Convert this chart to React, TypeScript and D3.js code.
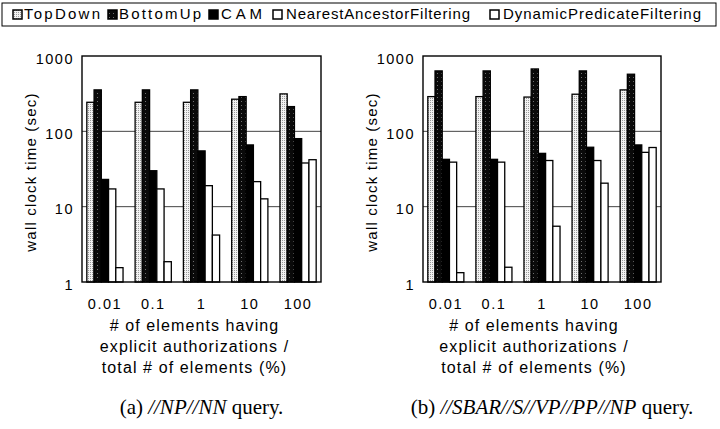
import * as d3 from "d3";

const groups = ["0.01", "0.1", "1", "10", "100"];
const series = [
  "TopDown",
  "BottomUp",
  "CAM",
  "NearestAncestorFiltering",
  "DynamicPredicateFiltering",
];

// wall clock time (sec), one array per series, indexed by group
const npTopDown = [243, 243, 243, 267, 314];
const npBottomUp = [355, 355, 355, 289, 213];
const npCAM = [23, 30, 55, 66, 80];
const npNAF = [17.2, 17.2, 19, 21.5, 38];
const npDPF = [1.55, 1.86, 4.2, 12.7, 42];

const sbTopDown = [289, 289, 285, 311, 355];
const sbBottomUp = [634, 634, 673, 634, 573];
const sbCAM = [42.5, 42.5, 51, 61.5, 66];
const sbNAF = [39, 39, 41, 41, 52.6];
const sbDPF = [1.33, 1.57, 5.5, 20.5, 61];

const yTicks = [1, 10, 100, 1000];
const gridValues = [10, 100];
const xTitle = ["# of elements having", "explicit authorizations /", "total # of elements (%)"];

const FILLS = ["url(#td)", "url(#bu)", "#000", "#fff", "#fff"];
const SANS = "'Liberation Sans', Arial, sans-serif";
const SERIF = "'Liberation Serif', 'Times New Roman', serif";

// legend layout: icon x, text x, text length
const legendLayout = [
  { ix: 13, tx: 24, w: 76 },
  { ix: 108, tx: 119, w: 82 },
  { ix: 209, tx: 221, w: 41 },
  { ix: 273, tx: 286, w: 184 },
  { ix: 490, tx: 503, w: 198 },
];

type PanelProps = {
  left: number;
  right: number;
  values: number[][];
  caption: [string, string, string];
  titleShift: number;
  captionShift: number;
};

function Panel({ left, right, values, caption, titleShift, captionShift }: PanelProps) {
  const top = 56;
  const bottom = 282;
  const y = d3.scaleLog().domain([1, 1000]).range([bottom, top]);
  const x = d3
    .scaleBand<string>()
    .domain(groups)
    .range([left, right])
    .paddingInner(0.25)
    .paddingOuter(0.1);
  const xs = d3
    .scaleBand<string>()
    .domain(series)
    .range([0, x.bandwidth()]);
  const cx = (left + right) / 2;

  return (
    <g>
      {gridValues.map((g) => (
        <line
          key={g}
          x1={left}
          x2={right}
          y1={y(g)}
          y2={y(g)}
          stroke="#444"
          strokeWidth={1}
        />
      ))}
      {groups.map((grp, gi) =>
        series.map((s, si) => {
          const v = values[si][gi];
          return (
            <rect
              key={grp + s}
              x={(x(grp) ?? 0) + (xs(s) ?? 0)}
              y={y(v)}
              width={xs.bandwidth()}
              height={bottom - y(v)}
              fill={FILLS[si]}
              stroke="#000"
              strokeWidth={1.3}
            />
          );
        })
      )}
      <rect
        x={left}
        y={top}
        width={right - left}
        height={bottom - top}
        fill="none"
        stroke="#000"
        strokeWidth={1.4}
      />
      {yTicks.map((t) => (
        <text
          key={t}
          x={left - 8}
          y={y(t) + 4}
          textAnchor="end"
          dominantBaseline="middle"
          fontFamily={SANS}
          fontSize={14.5}
          letterSpacing={1.5}
        >
          {t}
        </text>
      ))}
      <text
        transform={`translate(${left - 50},${(top + bottom) / 2 + 3}) rotate(-90)`}
        textAnchor="middle"
        dominantBaseline="middle"
        fontFamily={SANS}
        fontSize={15}
        letterSpacing={1.2}
      >
        wall clock time (sec)
      </text>
      {groups.map((grp) => (
        <text
          key={grp}
          x={(x(grp) ?? 0) + x.bandwidth() / 2}
          y={305}
          textAnchor="middle"
          dominantBaseline="middle"
          fontFamily={SANS}
          fontSize={14.5}
          letterSpacing={1.5}
        >
          {grp}
        </text>
      ))}
      {xTitle.map((line, i) => (
        <text
          key={line}
          x={cx + titleShift}
          y={327 + i * 21}
          textAnchor="middle"
          dominantBaseline="middle"
          fontFamily={SANS}
          fontSize={16}
          letterSpacing={1.1}
        >
          {line}
        </text>
      ))}
      <text
        x={cx + captionShift}
        y={409}
        textAnchor="middle"
        dominantBaseline="middle"
        fontFamily={SERIF}
        fontSize={21}
      >
        {caption[0]}
        <tspan fontStyle="italic">{caption[1]}</tspan>
        {caption[2]}
      </text>
    </g>
  );
}

export default function App() {
  return (
    <svg
      width={720}
      height={429}
      style={{ display: "block", position: "absolute", left: 0, top: 0, background: "#fff" }}
    >
      <defs>
        <pattern id="td" width={2} height={2} patternUnits="userSpaceOnUse">
          <rect width={2} height={2} fill="#f2f2f2" />
          <rect width={1} height={1} fill="#9a9a9a" />
        </pattern>
        <pattern id="bu" width={4} height={4} patternUnits="userSpaceOnUse">
          <rect width={4} height={4} fill="#0a0a0a" />
          <rect x={1} y={1} width={1} height={1} fill="#707070" />
        </pattern>
      </defs>
      <rect x={2} y={3} width={714} height={23} fill="#fff" stroke="#000" strokeWidth={1} />
      {series.map((s, i) => {
        const l = legendLayout[i];
        return (
          <g key={s}>
            <rect
              x={l.ix}
              y={10}
              width={9}
              height={9}
              fill={FILLS[i]}
              stroke="#000"
              strokeWidth={1.5}
            />
            <text
              x={l.tx}
              y={15}
              dominantBaseline="middle"
              fontFamily={SANS}
              fontSize={15}
              textLength={l.w}
              lengthAdjust="spacing"
            >
              {s}
            </text>
          </g>
        );
      })}
      <Panel
        left={82}
        right={321}
        values={[npTopDown, npBottomUp, npCAM, npNAF, npDPF]}
        caption={["(a) ", "//NP//NN", " query."]}
        titleShift={-7}
        captionShift={0}
      />
      <Panel
        left={423}
        right={661}
        values={[sbTopDown, sbBottomUp, sbCAM, sbNAF, sbDPF]}
        caption={["(b) ", "//SBAR//S//VP//PP//NP", " query."]}
        titleShift={-8}
        captionShift={10}
      />
    </svg>
  );
}
